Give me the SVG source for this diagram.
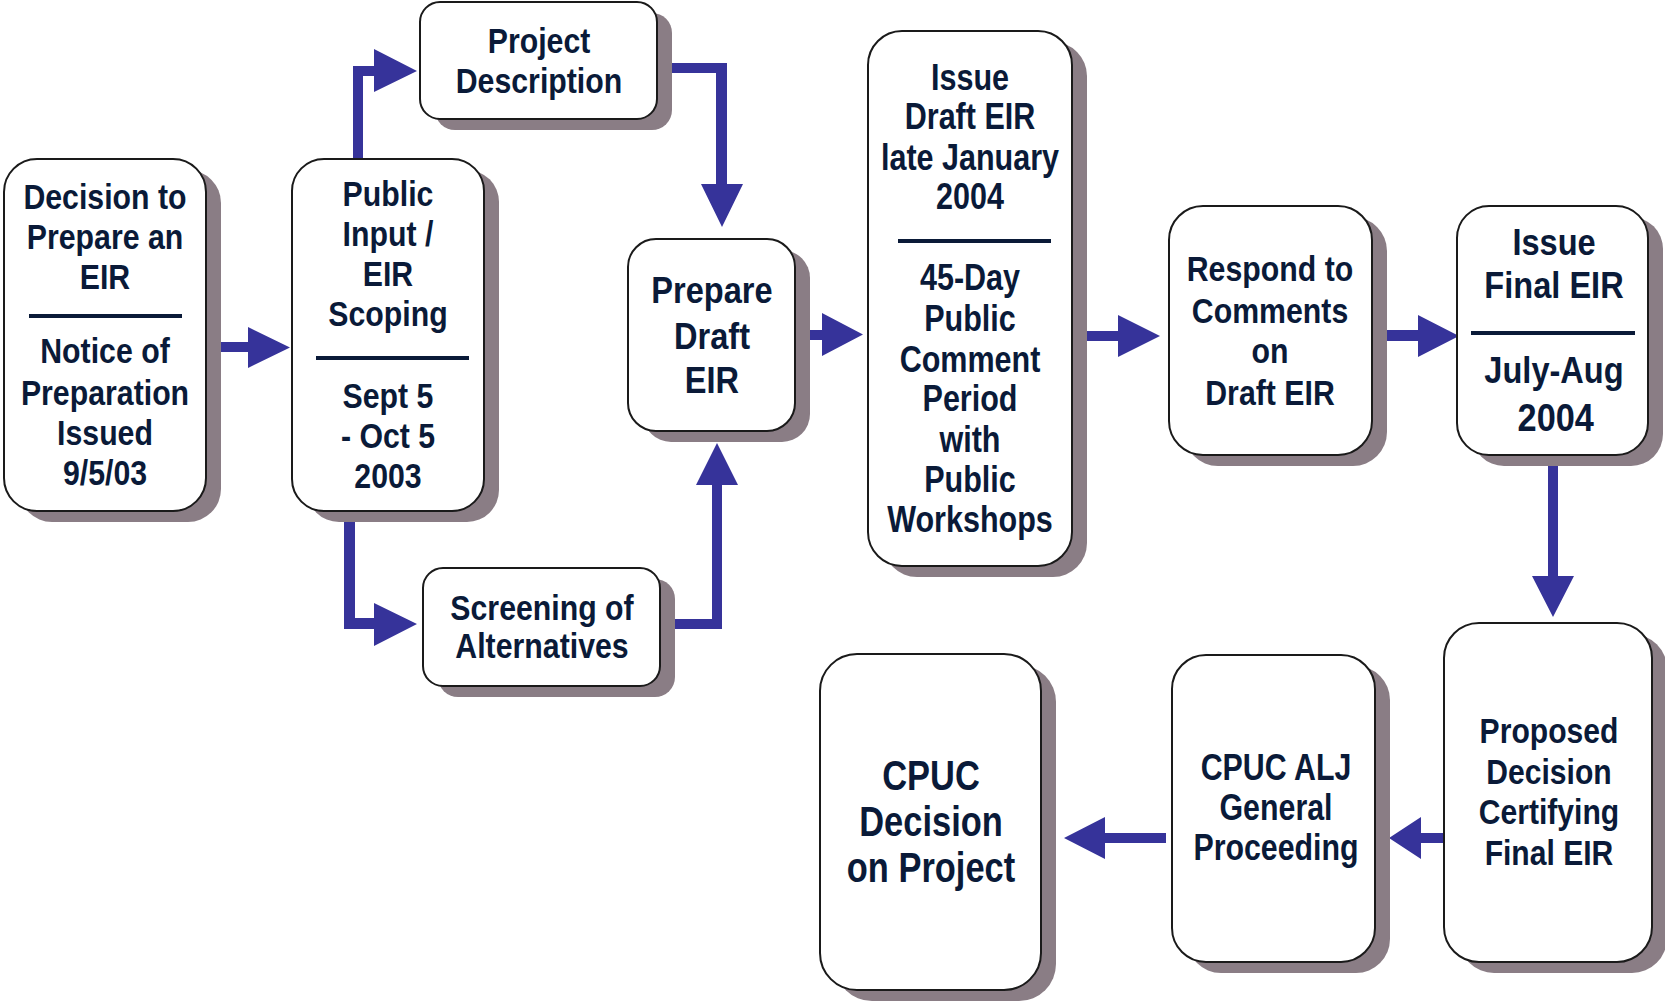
<svg xmlns="http://www.w3.org/2000/svg" width="1665" height="1001" viewBox="0 0 1665 1001">
<style>
.box{fill:#ffffff;stroke:#1a1a1a;stroke-width:2}
.sh{fill:#8a7d85}
.t{font-family:"Liberation Sans",Arial,sans-serif;font-weight:bold;fill:#0a1a38;text-anchor:middle}
.sep{stroke:#0a1a38;stroke-width:4}
.c{fill:#36339a}
</style>
<rect width="1665" height="1001" fill="#ffffff"/>
<g id="connectors">
<polygon class="c" points="221,342 248,342 248,327 290,347.5 248,368 248,352 221,352"/>
<polygon class="c" points="353,159 353,66 374,66 374,49 417,71 374,92 374,76 363,76 363,159"/>
<polygon class="c" points="344,511 355,511 355,618 374,618 374,603 417,624 374,646 374,629 344,629"/>
<polygon class="c" points="657,63 727,63 727,184 743,184 722,227 701,184 716,184 716,73 657,73"/>
<polygon class="c" points="660,619 712,619 712,485 696,485 717,443 738,485 722,485 722,629 660,629"/>
<polygon class="c" points="795,330 822,330 822,313 863,334.5 822,356 822,340 795,340"/>
<polygon class="c" points="1072,331 1118,331 1118,315 1160,336 1118,357 1118,341 1072,341"/>
<polygon class="c" points="1372,330 1418,330 1418,315 1459,336 1418,357 1418,341 1372,341"/>
<polygon class="c" points="1548,455 1558,455 1558,576 1574,576 1553,617 1532,576 1548,576"/>
<polygon class="c" points="1444,833 1421,833 1421,817 1389,838 1421,859 1421,843 1444,843"/>
<polygon class="c" points="1166,833 1105,833 1105,817 1064,838 1105,859 1105,843 1166,843"/>
</g>
<g id="n1">
<rect class="sh" x="19" y="170" width="202" height="352" rx="33"/>
<rect class="box" x="4" y="159" width="202" height="352" rx="33"/>
<line class="sep" x1="29" y1="316" x2="182" y2="316"/>
<g transform="translate(105,0) scale(0.865,1)"><text class="t" font-size="35"><tspan x="0" y="209">Decision to</tspan><tspan x="0" y="249">Prepare an</tspan><tspan x="0" y="289">EIR</tspan><tspan x="0" y="363">Notice of</tspan><tspan x="0" y="405">Preparation</tspan><tspan x="0" y="445">Issued</tspan><tspan x="0" y="485">9/5/03</tspan></text></g>
</g>
<g id="n2">
<rect class="sh" x="307" y="170" width="192" height="352" rx="32"/>
<rect class="box" x="292" y="159" width="192" height="352" rx="32"/>
<line class="sep" x1="316" y1="358" x2="469" y2="358"/>
<g transform="translate(388,0) scale(0.865,1)"><text class="t" font-size="35"><tspan x="0" y="206">Public</tspan><tspan x="0" y="246">Input /</tspan><tspan x="0" y="286">EIR</tspan><tspan x="0" y="326">Scoping</tspan><tspan x="0" y="408">Sept 5</tspan><tspan x="0" y="448">- Oct 5</tspan><tspan x="0" y="488">2003</tspan></text></g>
</g>
<g id="n3">
<rect class="sh" x="435" y="13" width="237" height="117" rx="20"/>
<rect class="box" x="420" y="2" width="237" height="117" rx="20"/>
<g transform="translate(539,0) scale(0.865,1)"><text class="t" font-size="35"><tspan x="0" y="53">Project</tspan><tspan x="0" y="93">Description</tspan></text></g>
</g>
<g id="n4">
<rect class="sh" x="438" y="579" width="237" height="118" rx="20"/>
<rect class="box" x="423" y="568" width="237" height="118" rx="20"/>
<g transform="translate(542,0) scale(0.865,1)"><text class="t" font-size="35"><tspan x="0" y="620">Screening of</tspan><tspan x="0" y="658">Alternatives</tspan></text></g>
</g>
<g id="n5">
<rect class="sh" x="643" y="250" width="167" height="192" rx="28"/>
<rect class="box" x="628" y="239" width="167" height="192" rx="28"/>
<g transform="translate(712,0) scale(0.88,1)"><text class="t" font-size="37"><tspan x="0" y="303">Prepare</tspan><tspan x="0" y="349">Draft</tspan><tspan x="0" y="393">EIR</tspan></text></g>
</g>
<g id="n6">
<rect class="sh" x="883" y="42" width="204" height="535" rx="34"/>
<rect class="box" x="868" y="31" width="204" height="535" rx="34"/>
<line class="sep" x1="898" y1="241" x2="1051" y2="241"/>
<g transform="translate(970,0) scale(0.825,1)"><text class="t" font-size="37"><tspan x="0" y="90">Issue</tspan><tspan x="0" y="129">Draft EIR</tspan><tspan x="0" y="170">late January</tspan><tspan x="0" y="209">2004</tspan><tspan x="0" y="290">45-Day</tspan><tspan x="0" y="331">Public</tspan><tspan x="0" y="372">Comment</tspan><tspan x="0" y="411">Period</tspan><tspan x="0" y="452">with</tspan><tspan x="0" y="492">Public</tspan><tspan x="0" y="532">Workshops</tspan></text></g>
</g>
<g id="n7">
<rect class="sh" x="1184" y="217" width="203" height="249" rx="34"/>
<rect class="box" x="1169" y="206" width="203" height="249" rx="34"/>
<g transform="translate(1270,0) scale(0.865,1)"><text class="t" font-size="35"><tspan x="0" y="281">Respond to</tspan><tspan x="0" y="323">Comments</tspan><tspan x="0" y="363">on</tspan><tspan x="0" y="405">Draft EIR</tspan></text></g>
</g>
<g id="n8">
<rect class="sh" x="1472" y="217" width="191" height="249" rx="32"/>
<rect class="box" x="1457" y="206" width="191" height="249" rx="32"/>
<line class="sep" x1="1471" y1="333" x2="1635" y2="333"/>
<g transform="translate(1554,0) scale(0.88,1)"><text class="t" font-size="37"><tspan x="0" y="255">Issue</tspan><tspan x="0" y="298">Final EIR</tspan><tspan x="0" y="383">July-Aug</tspan><tspan x="2" y="431" font-size="39">2004</tspan></text></g>
</g>
<g id="n9">
<rect class="sh" x="1459" y="634" width="208" height="339" rx="35"/>
<rect class="box" x="1444" y="623" width="208" height="339" rx="35"/>
<g transform="translate(1549,0) scale(0.86,1)"><text class="t" font-size="35"><tspan x="0" y="743">Proposed</tspan><tspan x="0" y="784">Decision</tspan><tspan x="0" y="824">Certifying</tspan><tspan x="0" y="865">Final EIR</tspan></text></g>
</g>
<g id="n10">
<rect class="sh" x="1187" y="666" width="203" height="307" rx="34"/>
<rect class="box" x="1172" y="655" width="203" height="307" rx="34"/>
<g transform="translate(1276,0) scale(0.82,1)"><text class="t" font-size="37"><tspan x="0" y="780">CPUC ALJ</tspan><tspan x="0" y="820">General</tspan><tspan x="0" y="860">Proceeding</tspan></text></g>
</g>
<g id="n11">
<rect class="sh" x="835" y="665" width="221" height="336" rx="37"/>
<rect class="box" x="820" y="654" width="221" height="336" rx="37"/>
<g transform="translate(931,0) scale(0.82,1)"><text class="t" font-size="42"><tspan x="0" y="790">CPUC</tspan><tspan x="0" y="836">Decision</tspan><tspan x="0" y="882">on Project</tspan></text></g>
</g>
</svg>
